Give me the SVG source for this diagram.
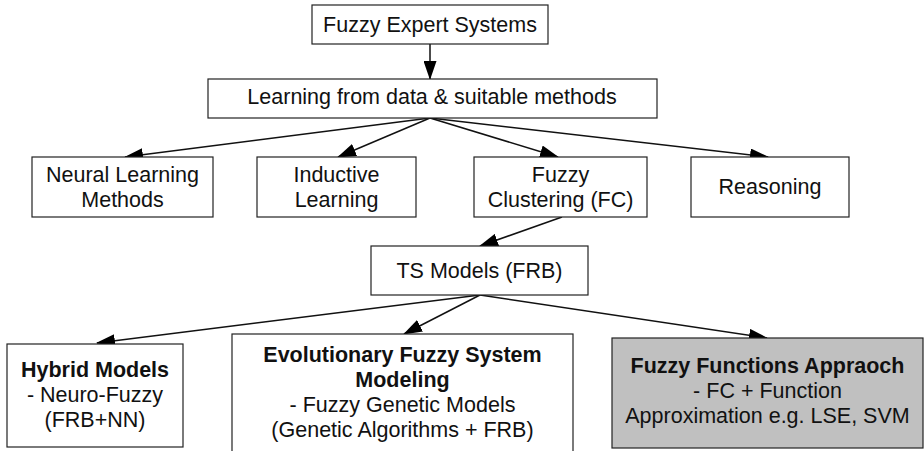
<svg xmlns="http://www.w3.org/2000/svg" width="924" height="451" viewBox="0 0 924 451">
<style>
.box{fill:#fff;stroke:#222;stroke-width:1.2}
.gray{fill:#c0c0c0}
text{font-family:"Liberation Sans",Arial,sans-serif;font-size:21.5px;fill:#111;text-anchor:middle}
.b{font-weight:bold}
.c line{stroke:#111;stroke-width:1.5;marker-end:url(#ah)}
</style>
<defs>
<marker id="ah" markerUnits="userSpaceOnUse" markerWidth="19" markerHeight="13" refX="18" refY="6.5" orient="auto">
<path d="M0,0 L19,6.5 L0,13 Z" fill="#000"/>
</marker>
</defs>
<rect width="924" height="451" fill="#fff"/>
<g class="c" id="connectors">
<line x1="430" y1="44" x2="430" y2="79"/>
<line x1="430" y1="118" x2="125" y2="157"/>
<line x1="430" y1="118" x2="338" y2="157"/>
<line x1="430" y1="118" x2="558" y2="157"/>
<line x1="430" y1="118" x2="768" y2="157"/>
<line x1="562" y1="217" x2="480" y2="246"/>
<line x1="480" y1="295" x2="97" y2="343"/>
<line x1="480" y1="295" x2="404" y2="334"/>
<line x1="480" y1="295" x2="767" y2="338"/>
</g>
<g id="n1"><rect class="box" x="312" y="5" width="236" height="39"/><text x="430" y="32">Fuzzy Expert Systems</text></g>
<g id="n2"><rect class="box" x="208" y="79" width="449" height="39"/><text x="432" y="104">Learning from data &amp; suitable methods</text></g>
<g id="n3"><rect class="box" x="32" y="157" width="181" height="60"/><text x="122.5" y="182">Neural Learning</text><text x="122.5" y="207">Methods</text></g>
<g id="n4"><rect class="box" x="257" y="157" width="159" height="60"/><text x="336.5" y="182">Inductive</text><text x="336.5" y="207">Learning</text></g>
<g id="n5"><rect class="box" x="474" y="157" width="173" height="60"/><text x="560.5" y="182">Fuzzy</text><text x="560.5" y="207">Clustering (FC)</text></g>
<g id="n6"><rect class="box" x="691" y="157" width="158" height="60"/><text x="770" y="194">Reasoning</text></g>
<g id="n7"><rect class="box" x="371" y="246" width="217" height="49"/><text x="479.5" y="278">TS Models (FRB)</text></g>
<g id="n8"><rect class="box" x="7" y="344" width="176" height="103"/><text class="b" x="95" y="377">Hybrid Models</text><text x="95" y="402">- Neuro-Fuzzy</text><text x="95" y="427">(FRB+NN)</text></g>
<g id="n9"><rect class="box" x="232" y="334" width="341" height="130"/><text class="b" x="402.5" y="362">Evolutionary Fuzzy System</text><text class="b" x="402.5" y="387">Modeling</text><text x="402.5" y="412">- Fuzzy Genetic Models</text><text x="402.5" y="437">(Genetic Algorithms + FRB)</text></g>
<g id="n10"><rect class="box gray" x="612" y="338" width="311" height="110"/><text class="b" x="767.5" y="373">Fuzzy Functions Appraoch</text><text x="767.5" y="398">- FC + Function</text><text x="767.5" y="423">Approximation e.g. LSE, SVM</text></g>
</svg>
